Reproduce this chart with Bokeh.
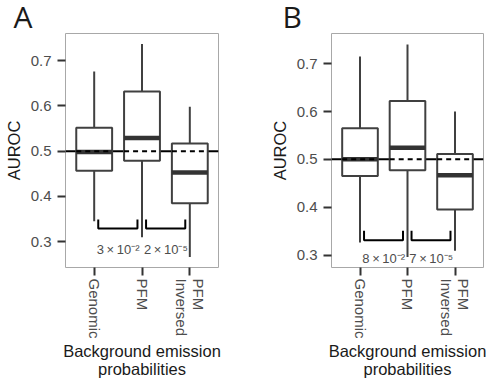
from bokeh.plotting import figure
from bokeh.layouts import row
from bokeh.models import Range1d, FixedTicker, Span, Title
from bokeh.core.properties import value
from bokeh.embed import file_html
from bokeh.resources import INLINE

# ---------------- data ----------------
categories = ["Genomic", "PFM", "PFM\nInversed"]
y_ticks = [0.3, 0.4, 0.5, 0.6, 0.7]
reference_auroc = 0.5

a_whisker_low = [0.345, 0.310, 0.266]
a_q1 = [0.457, 0.479, 0.385]
a_median = [0.498, 0.529, 0.453]
a_q3 = [0.552, 0.632, 0.517]
a_whisker_high = [0.676, 0.737, 0.598]
a_pvalues = ["3\u2009\u00d7\u200910\u207b\u00b2", "2\u2009\u00d7\u200910\u207b\u2075"]

b_whisker_low = [0.326, 0.296, 0.309]
b_q1 = [0.465, 0.477, 0.395]
b_median = [0.500, 0.524, 0.467]
b_q3 = [0.565, 0.622, 0.511]
b_whisker_high = [0.715, 0.740, 0.600]
b_pvalues = ["8\u2009\u00d7\u200910\u207b\u00b2", "7\u2009\u00d7\u200910\u207b\u2075"]

FONT = "Liberation Sans"
BOX_COLOR = "#404040"


def panel(letter, low, q1, med, q3, high, pvals, y_lo, y_hi, width,
          border_left, border_right, bracket_y, pval_y, letter_dx):
    n = len(categories)
    xs = [i + 1 for i in range(n)]
    p = figure(width=width, height=383,
               x_range=Range1d(0.4, n + 0.6), y_range=Range1d(y_lo, y_hi),
               output_backend="svg", toolbar_location=None,
               min_border_left=border_left, min_border_right=border_right,
               min_border_top=33, min_border_bottom=116)
    p.title = Title(text=letter, align="left", offset=letter_dx,
                    vertical_align="top",
                    text_font="Open Sans", text_font_size="30px",
                    text_font_style="normal", text_color="#1a1a1a",
                    standoff=-10)
    p.xgrid.visible = False
    p.ygrid.visible = False
    p.outline_line_color = "#a8a8a8"
    p.outline_line_width = 1

    # reference line behind boxes
    p.add_layout(Span(location=reference_auroc, dimension="width",
                      line_color="black", line_width=2, level="underlay"))

    half = 0.375
    p.segment(x0=xs, y0=q3, x1=xs, y1=high, line_color=BOX_COLOR, line_width=2)
    p.segment(x0=xs, y0=low, x1=xs, y1=q1, line_color=BOX_COLOR, line_width=2)
    p.vbar(x=xs, width=2 * half, bottom=q1, top=q3, fill_color="white",
           line_color=BOX_COLOR, line_width=2)
    p.segment(x0=[x - half for x in xs], y0=med, x1=[x + half for x in xs], y1=med,
              line_color="#333333", line_width=4.5)
    p.segment(x0=[x - half for x in xs], y0=[reference_auroc] * n,
              x1=[x + half for x in xs], y1=[reference_auroc] * n,
              line_color="black", line_width=2, line_dash="5 4")

    # significance brackets
    b_lo, b_hi = bracket_y
    bx = []
    by = []
    for i in range(n - 1):
        x1 = xs[i] + 0.085
        x2 = xs[i + 1] - 0.095
        bx.append([x1, x1, x2, x2])
        by.append([b_hi, b_lo, b_lo, b_hi])
    p.multi_line(xs=bx, ys=by, line_color="black", line_width=2)
    p.text(x=[xs[i] + 0.5 for i in range(n - 1)], y=[pval_y] * (n - 1), text=pvals,
           text_font=value(FONT), text_font_size="13px", text_color="#4d4d4d",
           text_align="center", text_baseline="alphabetic")

    # axes
    p.yaxis.ticker = FixedTicker(ticks=y_ticks)
    p.yaxis.axis_label = "AUROC"
    p.xaxis.ticker = FixedTicker(ticks=xs)
    p.xaxis.major_label_overrides = {x: c for x, c in zip(xs, categories)}
    p.xaxis.major_label_orientation = "vertical"
    p.xaxis.axis_label = "Background emission\nprobabilities"
    for ax in (p.xaxis, p.yaxis):
        ax.axis_line_color = None
        ax.major_tick_line_color = "#333333"
        ax.major_tick_line_width = 2
        ax.major_tick_out = 8
        ax.major_tick_in = 0
        ax.minor_tick_line_color = None
        ax.major_label_text_font = FONT
        ax.major_label_text_font_size = "15px"
        ax.major_label_text_color = "#4d4d4d"
        ax.major_label_text_line_height = 1.0
        ax.axis_label_text_font = FONT
        ax.axis_label_text_font_style = "normal"
        ax.axis_label_text_font_size = "16.5px"
        ax.axis_label_text_color = "#1a1a1a"
        ax.axis_label_text_line_height = 1.0
    p.xaxis.major_label_standoff = 3
    p.xaxis.axis_label_standoff = 0
    p.yaxis.major_label_standoff = 6
    p.yaxis.axis_label_standoff = 5
    return p


pa = panel("A", a_whisker_low, a_q1, a_median, a_q3, a_whisker_high, a_pvalues,
           0.243, 0.760, 245, 65, 27, (0.329, 0.349), 0.283, -52)
pb = panel("B", b_whisker_low, b_q1, b_median, b_q3, b_whisker_high, b_pvalues,
           0.274, 0.763, 244, 86, 6, (0.331, 0.351), 0.292, -49)

layout = row(pa, pb)
open("out.html", "w").write(file_html(layout, INLINE))
